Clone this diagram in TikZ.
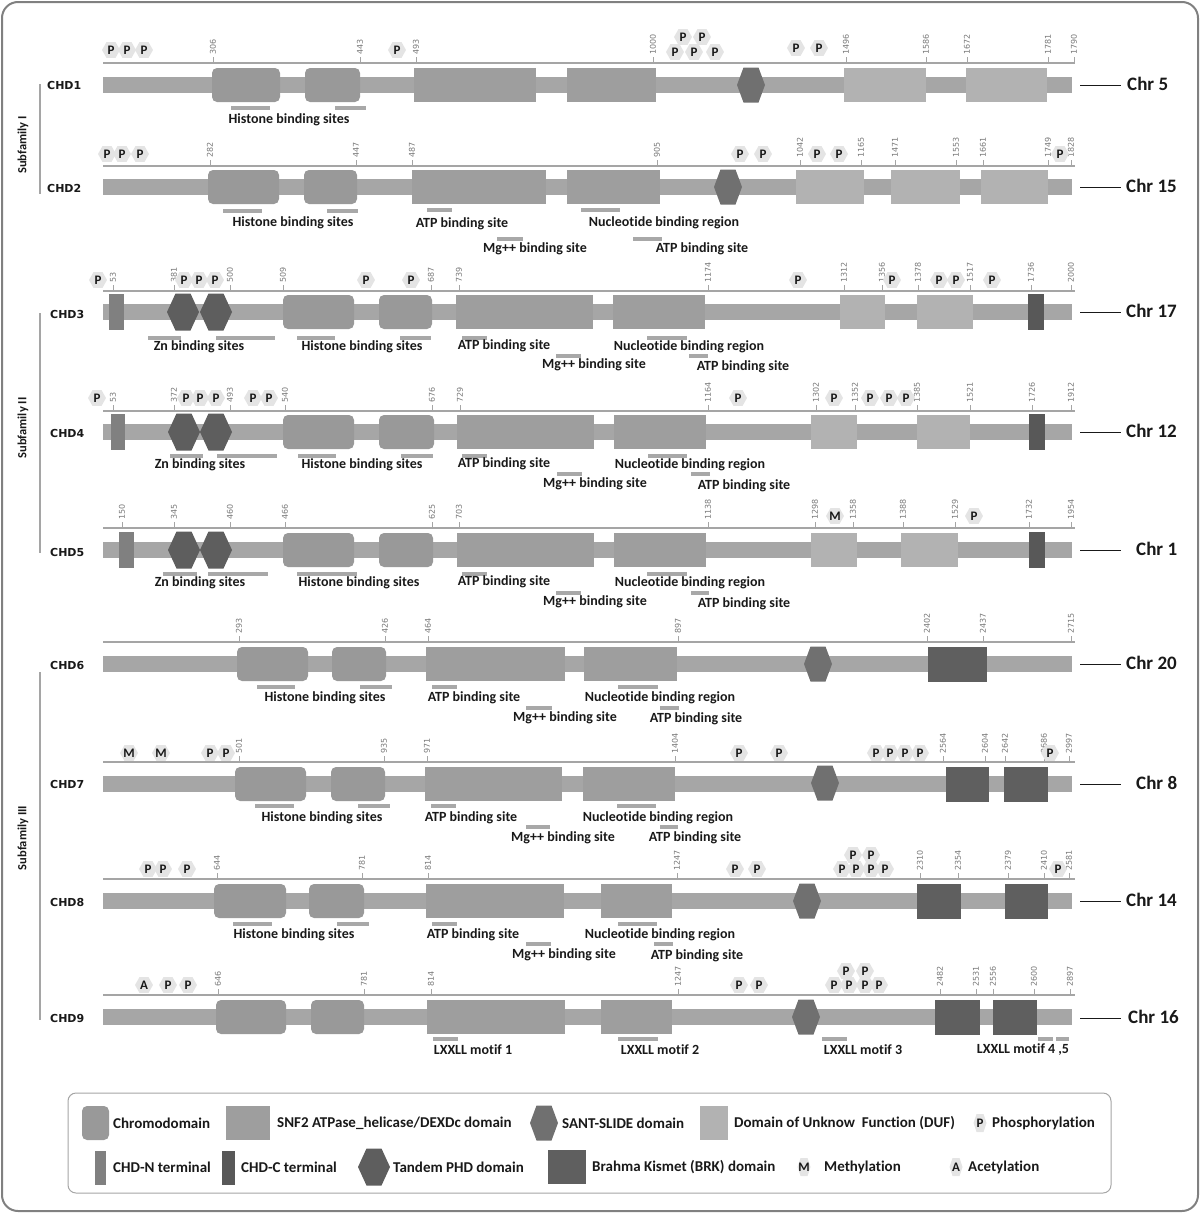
\documentclass[tikz,border=0pt]{standalone}
\usepackage{fontspec}
\setmainfont{Carlito}[Ligatures=NoCommon]
\newfontfamily\dvs{DejaVu Sans}
\usetikzlibrary{shapes.geometric}
\definecolor{bbc}{RGB}{166,166,166}
\definecolor{chc}{RGB}{153,153,153}
\definecolor{snc}{RGB}{158,158,158}
\definecolor{dfc}{RGB}{178,178,178}
\definecolor{sac}{RGB}{112,112,112}
\definecolor{phc}{RGB}{94,94,94}
\definecolor{brc}{RGB}{95,95,95}
\definecolor{ntc}{RGB}{128,128,128}
\definecolor{ctc}{RGB}{88,88,88}
\definecolor{mkc}{RGB}{228,228,228}
\definecolor{slc}{RGB}{165,165,165}
\definecolor{nmc}{RGB}{120,120,120}
\definecolor{txc}{RGB}{25,25,25}
\definecolor{ulc}{RGB}{168,168,168}
\definecolor{frc}{RGB}{128,128,128}
\newcounter{nn}
\tikzset{
 lbl/.style={font=\bfseries\fontsize{14}{14}\selectfont, text=txc, inner sep=0pt},
 leg/.style={font=\bfseries\fontsize{15}{15}\selectfont, text=txc, inner sep=0pt, anchor=west},
 num/.style={font=\dvs\fontsize{8}{8}\selectfont, text=nmc, rotate=90, anchor=west, inner sep=0pt},
 mkt/.style={font=\bfseries\fontsize{13}{13}\selectfont, text=txc, inner sep=0pt},
 chdl/.style={font=\dvs\bfseries\fontsize{11}{11}\selectfont, text=txc, inner sep=0pt, anchor=west},
 chrl/.style={font=\bfseries\fontsize{19}{19}\selectfont, text=txc, inner sep=0pt, anchor=west},
 chline/.style={draw=txc, line width=1pt},
 subl/.style={font=\bfseries\fontsize{12.5}{12.5}\selectfont, text=txc, inner sep=0pt, rotate=90},
 sfl/.style={draw=slc, line width=1.3pt},
}
\newcommand\xbb[1]{\fill[bbc] (103,#1-8) rectangle (1072,#1+8);}
\newcommand\xsl[1]{\draw[slc, line width=1.2pt] (103,#1) -- (1075,#1);}
\newcommand\xtk[3]{\draw[slc, line width=0.8pt] (#2,#1) -- (#2,#1-6); \stepcounter{nn}\node[num] (n\arabic{nn}) at (#2,#1-8) {#3};}
\newcommand\xch[3]{\fill[chc, rounded corners=5pt] (#1,#3-17) rectangle (#2,#3+17);}
\newcommand\xsn[3]{\fill[snc] (#1,#3-17) rectangle (#2,#3+17);}
\newcommand\xdf[3]{\fill[dfc] (#1,#3-17) rectangle (#2,#3+17);}
\newcommand\xbk[3]{\fill[brc] (#1,#3-17.5) rectangle (#2,#3+17.5);}
\newcommand\xnt[3]{\fill[ntc] (#1,#3-18) rectangle (#2,#3+18);}
\newcommand\xct[3]{\fill[ctc] (#1,#3-18) rectangle (#2,#3+18);}
\newcommand\xsa[2]{\fill[sac] (#1-7.5,#2-17.5) -- (#1+7.5,#2-17.5) -- (#1+14,#2) -- (#1+7.5,#2+17.5) -- (#1-7.5,#2+17.5) -- (#1-14,#2) -- cycle;}
\newcommand\xph[2]{\fill[phc] (#1-7.5,#2-18.5) -- (#1+7.5,#2-18.5) -- (#1+16,#2) -- (#1+7.5,#2+18.5) -- (#1-7.5,#2+18.5) -- (#1-16,#2) -- cycle;}
\newcommand\xmk[3]{\fill[mkc] (#1-9,#2) -- (#1-4.6,#2-7.8) -- (#1+4.6,#2-7.8) -- (#1+9,#2) -- (#1+4.6,#2+7.8) -- (#1-4.6,#2+7.8) -- cycle; \stepcounter{nn}\node[mkt] (m\arabic{nn}) at (#1,#2) {#3};}
\newcommand\xsm[3]{\fill[mkc] (#1-6.5,#2) -- (#1-3.5,#2-9) -- (#1+3.5,#2-9) -- (#1+6.5,#2) -- (#1+3.5,#2+9) -- (#1-3.5,#2+9) -- cycle; \stepcounter{nn}\node[mkt] (s\arabic{nn}) at (#1,#2) {#3};}
\newcommand\xul[3]{\fill[ulc] (#1,#3-2) rectangle (#2,#3+2);}
\newcommand\xlb[3]{\stepcounter{nn}\node[lbl] (l\arabic{nn}) at (#1,#2) {#3};}
\newcommand\xlg[3]{\stepcounter{nn}\node[leg] (g\arabic{nn}) at (#1,#2) {#3};}
\newcommand\xchd[3]{\stepcounter{nn}\node[chdl] (h\arabic{nn}) at (#1,#2) {#3};}
\newcommand\xchr[4]{\stepcounter{nn}\node[chrl] (c\arabic{nn}) at (#1,#2-1.5) {#3};
 \coordinate (k\arabic{nn}) at (1080,#2);
 \draw[chline, shorten >=#4pt] (k\arabic{nn}) -- (k\arabic{nn} -| c\arabic{nn}.west);}
\begin{document}
\begin{tikzpicture}[x=1pt,y=-1pt]
\useasboundingbox (0,0) rectangle (1200,1213);
\draw[frc, line width=2pt, rounded corners=16pt] (2,2) rectangle (1198,1211);

% subfamily labels
\draw[sfl] (40,84) -- (40,194);
\draw[sfl] (40,313) -- (40,553);
\draw[sfl] (40,672) -- (40,1020);
\node[subl] (sf1) at (23,145) {Subfamily I};
\node[subl] (sf2) at (23,428) {Subfamily II};
\node[subl] (sf3) at (23,838) {Subfamily III};

% CHD labels
\xchd{47}{85}{CHD1}
\xchd{47}{188}{CHD2}
\xchd{50}{314}{CHD3}
\xchd{50}{433}{CHD4}
\xchd{50}{552}{CHD5}
\xchd{50}{665}{CHD6}
\xchd{50}{784}{CHD7}
\xchd{50}{902}{CHD8}
\xchd{50}{1018}{CHD9}

% Chr labels
\xchr{1127}{85}{Chr 5}{6}
\xchr{1126}{187}{Chr 15}{5}
\xchr{1126}{312}{Chr 17}{5}
\xchr{1126}{432}{Chr 12}{5}
\xchr{1136}{550}{Chr 1}{15}
\xchr{1126}{664}{Chr 20}{5}
\xchr{1136}{784}{Chr 8}{15}
\xchr{1126}{901}{Chr 14}{5}
\xchr{1128}{1018}{Chr 16}{7}

% ===== CHD1 =====
\xsl{63}
\foreach \x/\t in {213/306,360/443,416/493,653/1000,846/1496,926/1586,967/1672,1048/1781,1074/1790} {\xtk{63}{\x}{\t}}
\xbb{85}
\xch{212}{280}{85} \xch{305}{360}{85}
\xsn{414}{536}{85} \xsn{567}{656}{85}
\xsa{751}{85}
\xdf{844}{926}{85} \xdf{966}{1047}{85}
\xul{231}{270}{108} \xul{335}{366}{108}
\xlb{289}{120}{Histone binding sites}
\xmk{111}{50}{P} \xmk{127}{50}{P} \xmk{144}{50}{P} \xmk{397}{50}{P}
\xmk{683}{37}{P} \xmk{702}{37}{P}
\xmk{675}{52}{P} \xmk{694}{52}{P} \xmk{715}{52}{P}
\xmk{796}{48}{P} \xmk{819}{48}{P}

% ===== CHD2 =====
\xsl{166}
\foreach \x/\t in {210/282,356/447,412/487,657/905,800/1042,861/1165,895/1471,956/1553,983/1661,1048/1749,1071/1828} {\xtk{166}{\x}{\t}}
\xbb{187}
\xch{208}{279}{187} \xch{304}{357}{187}
\xsn{412}{546}{187} \xsn{567}{660}{187}
\xsa{728}{187}
\xdf{796}{864}{187} \xdf{891}{960}{187} \xdf{981}{1048}{187}
\xul{223}{262}{211} \xul{327}{358}{211} \xul{427}{452}{210} \xul{581}{620}{210}
\xul{497}{523}{239} \xul{633}{662}{239}
\xlb{293}{223}{Histone binding sites}
\xlb{462}{224}{ATP binding site}
\xlb{664}{223}{Nucleotide binding region}
\xlb{535}{249}{Mg++ binding site}
\xlb{702}{249}{ATP binding site}
\xmk{107}{154}{P} \xmk{122}{154}{P} \xmk{140}{154}{P}
\xmk{740}{154}{P} \xmk{763}{154}{P} \xmk{817}{154}{P} \xmk{839}{154}{P} \xmk{1060}{154}{P}

% ===== CHD3 =====
\xsl{291}
\foreach \x/\t in {113/53,174/381,230/500,283/509,431/687,459/739,708/1174,844/1312,882/1356,918/1378,970/1517,1031/1736,1071/2000} {\xtk{291}{\x}{\t}}
\xbb{312}
\xnt{109}{124}{312}
\xph{183}{312} \xph{216}{312}
\xch{283}{354}{312} \xch{379}{432}{312}
\xsn{456}{593}{312} \xsn{613}{705}{312}
\xdf{840}{885}{312} \xdf{917}{973}{312}
\xct{1028}{1044}{312}
\xul{148}{181}{338} \xul{216}{275}{338} \xul{297}{335}{338} \xul{400}{431}{338}
\xul{462}{487}{338} \xul{647}{687}{338}
\xul{556}{581}{356} \xul{689}{708}{356}
\xlb{199}{347}{Zn binding sites}
\xlb{362}{347}{Histone binding sites}
\xlb{504}{346}{ATP binding site}
\xlb{689}{347}{Nucleotide binding region}
\xlb{594}{365}{Mg++ binding site}
\xlb{743}{367}{ATP binding site}
\xmk{98}{280}{P} \xmk{184}{280}{P} \xmk{199}{280}{P} \xmk{215}{280}{P}
\xmk{366}{280}{P} \xmk{411}{280}{P} \xmk{798}{280}{P} \xmk{892}{280}{P}
\xmk{939}{280}{P} \xmk{956}{280}{P} \xmk{992}{280}{P}

% ===== CHD4 =====
\xsl{411}
\foreach \x/\t in {113/53,174/372,230/493,285/540,432/676,460/729,708/1164,816/1302,855/1352,917/1385,970/1521,1032/1726,1071/1912} {\xtk{411}{\x}{\t}}
\xbb{432}
\xnt{111}{125}{432}
\xph{184}{432} \xph{216}{432}
\xch{283}{354}{432} \xch{379}{434}{432}
\xsn{457}{594}{432} \xsn{614}{706}{432}
\xdf{811}{857}{432} \xdf{917}{970}{432}
\xct{1029}{1045}{432}
\xul{170}{203}{456} \xul{217}{277}{456} \xul{298}{336}{456} \xul{401}{433}{456}
\xul{462}{487}{456} \xul{648}{687}{456}
\xul{557}{582}{474} \xul{691}{710}{474}
\xlb{200}{465}{Zn binding sites}
\xlb{362}{465}{Histone binding sites}
\xlb{504}{464}{ATP binding site}
\xlb{690}{465}{Nucleotide binding region}
\xlb{595}{484}{Mg++ binding site}
\xlb{744}{486}{ATP binding site}
\xmk{97}{398}{P} \xmk{186}{398}{P} \xmk{200}{398}{P} \xmk{216}{398}{P}
\xmk{253}{398}{P} \xmk{269}{398}{P} \xmk{738}{398}{P} \xmk{834}{398}{P}
\xmk{870}{398}{P} \xmk{889}{398}{P} \xmk{906}{398}{P}

% ===== CHD5 =====
\xsl{528}
\foreach \x/\t in {122/150,174/345,230/460,285/466,432/625,459/703,708/1138,815/1298,853/1358,903/1388,955/1529,1029/1732,1071/1954} {\xtk{528}{\x}{\t}}
\xbb{550}
\xnt{119}{134}{550}
\xph{184}{550} \xph{216}{550}
\xch{283}{354}{550} \xch{379}{433}{550}
\xsn{457}{594}{550} \xsn{614}{706}{550}
\xdf{811}{857}{550} \xdf{901}{958}{550}
\xct{1029}{1045}{550}
\xul{163}{197}{574} \xul{208}{268}{574} \xul{297}{357}{574}
\xul{462}{487}{574} \xul{647}{687}{574}
\xul{556}{581}{593} \xul{691}{709}{593}
\xlb{200}{583}{Zn binding sites}
\xlb{359}{583}{Histone binding sites}
\xlb{504}{582}{ATP binding site}
\xlb{690}{583}{Nucleotide binding region}
\xlb{595}{602}{Mg++ binding site}
\xlb{744}{604}{ATP binding site}
\xmk{835}{516}{M} \xmk{974}{516}{P}

% ===== CHD6 =====
\xsl{642}
\foreach \x/\t in {239/293,385/426,428/464,678/897,927/2402,983/2437,1071/2715} {\xtk{642}{\x}{\t}}
\xbb{664}
\xch{237}{308}{664} \xch{332}{386}{664}
\xsn{426}{565}{664} \xsn{584}{677}{664}
\xsa{818}{664}
\xbk{928}{987}{664}
\xul{257}{295}{687} \xul{360}{392}{687} \xul{432}{457}{687} \xul{618}{658}{687}
\xul{526}{552}{708} \xul{660}{679}{708}
\xlb{325}{698}{Histone binding sites}
\xlb{474}{698}{ATP binding site}
\xlb{660}{698}{Nucleotide binding region}
\xlb{565}{718}{Mg++ binding site}
\xlb{696}{719}{ATP binding site}

% ===== CHD7 =====
\xsl{762}
\foreach \x/\t in {239/501,384/935,427/971,675/1404,943/2564,985/2604,1005/2642,1044/2686,1069/2997} {\xtk{762}{\x}{\t}}
\xbb{784}
\xch{235}{306}{784} \xch{331}{385}{784}
\xsn{425}{562}{784} \xsn{583}{675}{784}
\xsa{825}{783}
\xbk{946}{989}{784} \xbk{1004}{1048}{784}
\xul{255}{294}{806} \xul{358}{390}{806} \xul{431}{456}{806} \xul{617}{656}{806}
\xul{526}{550}{827} \xul{660}{678}{827}
\xlb{322}{818}{Histone binding sites}
\xlb{471}{818}{ATP binding site}
\xlb{658}{818}{Nucleotide binding region}
\xlb{563}{838}{Mg++ binding site}
\xlb{695}{838}{ATP binding site}
\xmk{129}{753}{M} \xmk{161}{753}{M} \xmk{210}{753}{P} \xmk{226}{753}{P}
\xmk{739}{753}{P} \xmk{779}{753}{P}
\xmk{876}{753}{P} \xmk{890}{753}{P} \xmk{905}{753}{P} \xmk{920}{753}{P}
\xmk{1050}{753}{P}

% ===== CHD8 =====
\xsl{879}
\foreach \x/\t in {217/644,362/781,428/814,677/1247,920/2310,958/2354,1008/2379,1044/2410,1069/2581} {\xtk{879}{\x}{\t}}
\xbb{901}
\xch{214}{286}{901} \xch{309}{364}{901}
\xsn{426}{564}{901} \xsn{601}{672}{901}
\xsa{807}{901}
\xbk{917}{961}{901} \xbk{1005}{1048}{901}
\xul{233}{272}{924} \xul{337}{369}{924} \xul{432}{457}{924} \xul{618}{657}{924}
\xul{526}{551}{944} \xul{654}{673}{944}
\xlb{294}{935}{Histone binding sites}
\xlb{473}{935}{ATP binding site}
\xlb{660}{935}{Nucleotide binding region}
\xlb{564}{955}{Mg++ binding site}
\xlb{697}{956}{ATP binding site}
\xmk{148}{869}{P} \xmk{163}{869}{P} \xmk{187}{869}{P}
\xmk{735}{869}{P} \xmk{757}{869}{P}
\xmk{853}{855}{P} \xmk{871}{855}{P}
\xmk{842}{869}{P} \xmk{856}{869}{P} \xmk{871}{869}{P} \xmk{885}{869}{P}
\xmk{1058}{869}{P}

% ===== CHD9 =====
\xsl{995}
\foreach \x/\t in {218/646,364/781,431/814,678/1247,940/2482,976/2531,993/2556,1034/2600,1070/2897} {\xtk{995}{\x}{\t}}
\xbb{1017}
\xch{216}{286}{1017} \xch{311}{364}{1017}
\xsn{427}{565}{1017} \xsn{601}{672}{1017}
\xsa{806}{1017}
\xbk{935}{980}{1017} \xbk{993}{1037}{1017}
\xul{433}{458}{1039} \xul{618}{658}{1039} \xul{822}{847}{1039} \xul{1038}{1053}{1039} \xul{1056}{1069}{1039}
\xlb{473}{1050}{LXXLL motif 1}
\xlb{660}{1050}{LXXLL motif 2}
\xlb{863}{1050}{LXXLL motif 3}
\xlb{1023}{1050}{LXXLL motif 4 ,5}
\xmk{144}{985}{A} \xmk{168}{985}{P} \xmk{188}{985}{P}
\xmk{739}{985}{P} \xmk{759}{985}{P}
\xmk{846}{971}{P} \xmk{865}{971}{P}
\xmk{834}{985}{P} \xmk{849}{985}{P} \xmk{865}{985}{P} \xmk{879}{985}{P}

% ===== legend =====
\draw[draw=slc, line width=1pt, rounded corners=8pt] (68,1093) rectangle (1111,1193);
\fill[chc, rounded corners=5pt] (82,1106) rectangle (109,1140);
\xlg{113}{1123}{Chromodomain}
\fill[snc] (226,1106) rectangle (270,1140);
\xlg{277}{1123}{SNF2 ATPase\_helicase/DEXDc domain}
\xsa{544}{1123}
\xlg{562}{1123}{SANT-SLIDE domain}
\fill[dfc] (700,1106) rectangle (728,1140);
\xlg{734}{1123}{Domain of Unknow\ \ Function (DUF)}
\xsm{980}{1123}{P}
\xlg{992}{1123}{Phosphorylation}
\fill[ntc] (95,1151) rectangle (106,1185);
\xlg{113}{1167}{CHD-N terminal}
\fill[ctc] (222,1151) rectangle (235,1185);
\xlg{241}{1167}{CHD-C terminal}
\xph{374}{1167}
\xlg{393}{1167}{Tandem PHD domain}
\fill[brc] (548,1150) rectangle (586,1184);
\xlg{592}{1167}{Brahma Kismet (BRK) domain}
\xsm{804}{1167}{M}
\xlg{824}{1167}{Methylation}
\xsm{956}{1167}{A}
\xlg{968}{1167}{Acetylation}
\end{tikzpicture}
\end{document}
